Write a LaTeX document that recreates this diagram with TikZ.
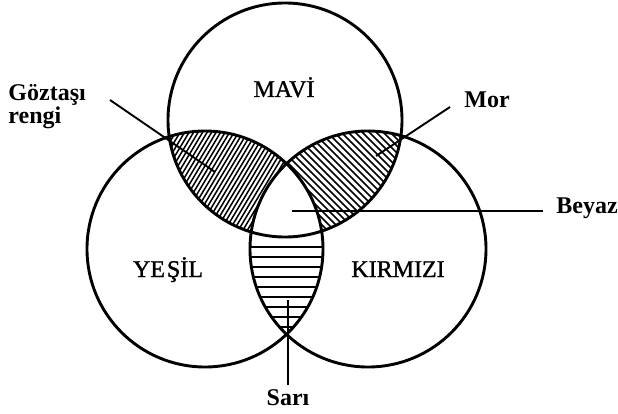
\documentclass[tikz,border=0pt]{standalone}
\usepackage{fontspec}
\setmainfont{Liberation Serif}
\newfontface\renkfont[FakeBold=1.2]{Liberation Serif}

\begin{document}
\begin{tikzpicture}[
    x=1pt, y=-1pt,
    line width=2.9pt,
    renk/.style={font=\renkfont\fontsize{24}{24}\selectfont, inner sep=0pt},
    etiket/.style={font=\bfseries\fontsize{24}{18}\selectfont, inner sep=0pt},
    kol/.style={line width=1.9pt},
    tara/.style={line width=1.5pt}
  ]
  \useasboundingbox (0,0) rectangle (618,414);

  % 円の中心
  \coordinate (mavi) at (285,120);
  \coordinate (yesil) at (205,249);
  \coordinate (kirmizi) at (368,249);

  % Göztaşı（上 ∩ 左）
  \begin{scope}
    \clip (mavi) circle[radius=117pt];
    \clip (yesil) circle[radius=118pt];
    \begin{scope}[even odd rule]
      \clip (kirmizi) circle[radius=118pt] (0,0) rectangle (618,414);
      \foreach \k in {60,64.5,...,330} {
        \draw[tara] (\k,250) -- ++(90,-150);
      }
    \end{scope}
  \end{scope}

  % Mor（上 ∩ 右）
  \begin{scope}
    \clip (mavi) circle[radius=117pt];
    \clip (kirmizi) circle[radius=118pt];
    \begin{scope}[even odd rule]
      \clip (yesil) circle[radius=118pt] (0,0) rectangle (618,414);
      \foreach \k in {120,127,...,410} {
        \draw[tara] (\k,100) -- ++(150,150);
      }
    \end{scope}
  \end{scope}

  % Sarı（左 ∩ 右）
  \begin{scope}
    \clip (yesil) circle[radius=118pt];
    \clip (kirmizi) circle[radius=118pt];
    \begin{scope}[even odd rule]
      \clip (mavi) circle[radius=117pt] (0,0) rectangle (618,414);
      \foreach \y in {247,257,...,337} {
        \draw[tara] (230,\y) -- (350,\y);
      }
    \end{scope}
  \end{scope}

  % 三つの円
  \draw (mavi) circle[radius=117pt];
  \draw (yesil) circle[radius=118pt];
  \draw (kirmizi) circle[radius=118pt];

  % 円の名前
  \node[renk, anchor=base] (mavilbl) at (284,97) {MAVİ};
  \node[renk, anchor=base] (yesillbl) at (168,277) {YE\kern2pt ŞİL};
  \node[renk, anchor=base] (kirmizilbl) at (398,277) {KIRMIZI};

  % 外側の名前
  \node[etiket, align=left, anchor=north west] (goztasi) at (7,83) {Göztaşı\\rengi};
  \node[etiket, anchor=base west] (mor) at (463,108) {Mor};
  \node[etiket, anchor=base west] (beyaz) at (555,213) {Beyaz};
  \node[etiket, anchor=base] (sari) at (288,405) {Sarı};

  % 引き出し線
  \coordinate (gozA) at (110,100);
  \coordinate (gozB) at (215,172);
  \coordinate (morA) at (450,107);
  \coordinate (morB) at (376,156);
  \coordinate (beyA) at (292,211);
  \coordinate (sariA) at (288,300);
  \draw[kol] (gozA) -- (gozB);
  \draw[kol] (morA) -- (morB);
  \draw[kol, shorten >=12pt] (beyA) -- (beyA -| beyaz.west);
  \draw[kol, shorten >=3pt] (sariA) -- (sari.north);
\end{tikzpicture}
\end{document}
